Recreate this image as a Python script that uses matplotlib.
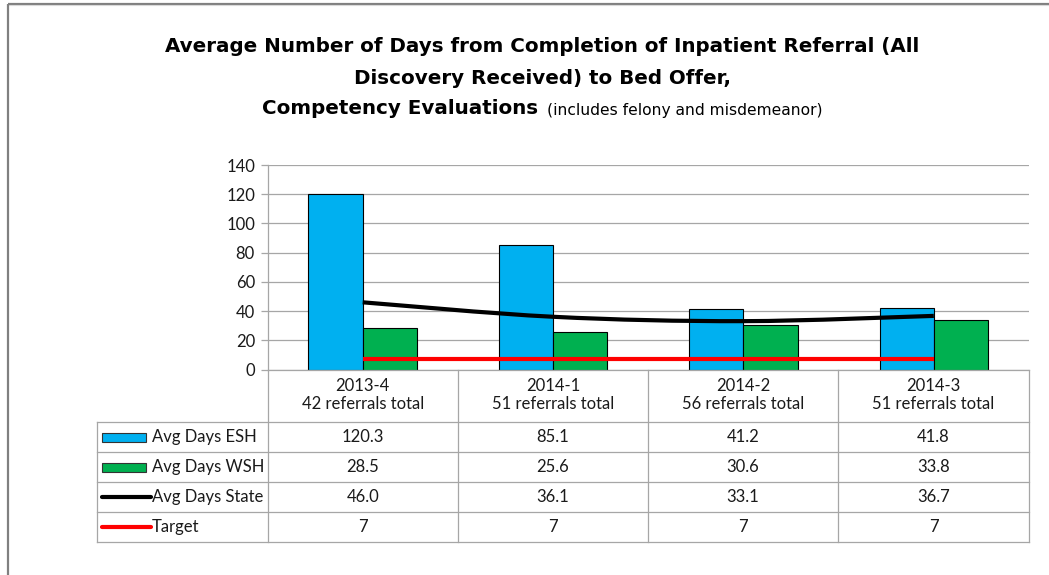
import numpy as np
import matplotlib.pyplot as plt
from matplotlib.path import Path
from matplotlib.patches import PathPatch, Rectangle

# --- data
periods = ["2013-4", "2014-1", "2014-2", "2014-3"]
referrals = [42, 51, 56, 51]
avg_esh = [120.3, 85.1, 41.2, 41.8]
avg_wsh = [28.5, 25.6, 30.6, 33.8]
avg_state = [46.0, 36.1, 33.1, 36.7]
target = [7, 7, 7, 7]
series_names = ["Avg Days ESH", "Avg Days WSH", "Avg Days State", "Target"]
y_ticks = [0, 20, 40, 60, 80, 100, 120, 140]

ESH_COL = "#00B0F0"
WSH_COL = "#00B050"
GRID_COL = "#A6A6A6"
TXT_COL = "#1a1a1a"

W, H = 1049, 575
plt.rcParams["font.family"] = ["Lato", "DejaVu Sans"]
TITLE_FONT = ["DejaVu Sans"]


def _smooth_path(x, y):
    # excel-like smoothed line: cubic bezier segments through the points
    x = np.asarray(x, float)
    y = np.asarray(y, float)
    P = np.c_[x, y]
    Pp = np.vstack([P[0], P, P[-1]])
    verts = [P[0]]
    codes = [Path.MOVETO]
    for i in range(len(P) - 1):
        c1 = P[i] + (Pp[i + 2] - Pp[i]) / 6
        c2 = P[i + 1] - (Pp[i + 3] - Pp[i + 1]) / 6
        verts += [c1, c2, P[i + 1]]
        codes += [Path.CURVE4] * 3
    return Path(verts, codes)


fig = plt.figure(figsize=(W / 100, H / 100), dpi=100)

# layout in pixels
ax_l, ax_r, ax_t, ax_b = 267.5, 1029, 165, 369.5
ax = fig.add_axes([ax_l / W, 1 - ax_b / H, (ax_r - ax_l) / W, (ax_b - ax_t) / H])

x = np.arange(len(periods))
bw = 0.285
ax.bar(x - bw / 2, avg_esh, bw, color=ESH_COL, edgecolor="k", lw=0.8, zorder=3)
ax.bar(x + bw / 2, avg_wsh, bw, color=WSH_COL, edgecolor="k", lw=0.8, zorder=3)
ax.add_patch(PathPatch(_smooth_path(x, avg_state), fc="none", ec="k", lw=3.0,
                       capstyle="butt", zorder=4))
ax.plot(x, target, color="#FF0000", lw=3.0, solid_capstyle="butt", zorder=4)

ax.set(xlim=(-0.5, len(periods) - 0.5), ylim=(0, 140), yticks=y_ticks, xticks=[])
ax.yaxis.grid(True, color=GRID_COL, lw=0.9)
ax.set_axisbelow(True)
for s in ["top", "right", "bottom"]:
    ax.spines[s].set_visible(False)
ax.spines["left"].set_color(GRID_COL)
ax.spines["left"].set_linewidth(0.9)
ax.tick_params(axis="y", length=5, width=0.9, color=GRID_COL, labelsize=12,
               labelcolor=TXT_COL, pad=4)

# --- overlay in pixel coordinates: border, title, data table
bg = fig.add_axes([0, 0, 1, 1], zorder=5)
bg.set(xlim=(0, W), ylim=(H, 0))
bg.axis("off")

bg.plot([7.5, W], [3.5, 3.5], color="#808080", lw=1.6, solid_capstyle="butt")
bg.plot([7.5, W], [5.2, 5.2], color="#D9D9D9", lw=0.8, solid_capstyle="butt")
bg.plot([7.5, 7.5], [3.5, H], color="#808080", lw=1.6, solid_capstyle="butt")

title_cx = 542
title_fs = 14.3
bg.text(title_cx, 47, "Average Number of Days from Completion of Inpatient Referral (All",
        ha="center", va="center", fontsize=title_fs, fontweight="bold", color="k",
        family=TITLE_FONT)
bg.text(title_cx, 78, "Discovery Received) to Bed Offer,",
        ha="center", va="center", fontsize=title_fs, fontweight="bold", color="k",
        family=TITLE_FONT)
t_bold = bg.text(0, 109, "Competency Evaluations", ha="left", va="center",
                 fontsize=title_fs, fontweight="bold", color="k", family=TITLE_FONT)
t_reg = bg.text(0, 110, "(includes felony and misdemeanor)", ha="left", va="center",
                fontsize=11.2, color="k", family=TITLE_FONT)
# center the mixed-style third line as one unit
r = fig.canvas.get_renderer()
w_b = t_bold.get_window_extent(r).width
w_r = t_reg.get_window_extent(r).width
gap = 9
x0 = title_cx - (w_b + gap + w_r) / 2
t_bold.set_x(x0)
t_reg.set_x(x0 + w_b + gap)

# table grid
tcol = "#A6A6A6"
col_x = [97, 267.5, 458, 648, 838, 1029]
row_y = [369.5, 422, 452, 482, 512, 542]
for yy in row_y:
    xs = col_x[1] if yy == row_y[0] else col_x[0]
    bg.plot([xs, col_x[-1]], [yy, yy], color=tcol, lw=0.9)
for xx in col_x:
    ys = row_y[1] if xx == col_x[0] else row_y[0]
    bg.plot([xx, xx], [ys, row_y[-1]], color=tcol, lw=0.9)

# header cells
for j, (p, n) in enumerate(zip(periods, referrals)):
    cx = (col_x[j + 1] + col_x[j + 2]) / 2
    bg.text(cx, 395, f"{p}\n{n} referrals total", ha="center", va="center",
            fontsize=12, color=TXT_COL, linespacing=1.2)

# data rows
rows = [avg_esh, avg_wsh, avg_state, target]
for i, (name, vals) in enumerate(zip(series_names, rows)):
    cy = (row_y[i + 1] + row_y[i + 2]) / 2
    if i < 2:
        col = ESH_COL if i == 0 else WSH_COL
        bg.add_patch(Rectangle((102, cy - 4.5), 44, 9, fc=col, ec="#333333", lw=0.8))
    else:
        col = "k" if i == 2 else "#FF0000"
        bg.plot([102, 151], [cy, cy], color=col, lw=3.0, solid_capstyle="round")
    bg.text(152, cy, name, ha="left", va="center", fontsize=12, color=TXT_COL)
    for j, v in enumerate(vals):
        cx = (col_x[j + 1] + col_x[j + 2]) / 2
        s = str(v) if isinstance(v, int) else f"{v:.1f}"
        bg.text(cx, cy, s, ha="center", va="center", fontsize=12, color=TXT_COL)

fig.savefig("out.png", dpi=100)
